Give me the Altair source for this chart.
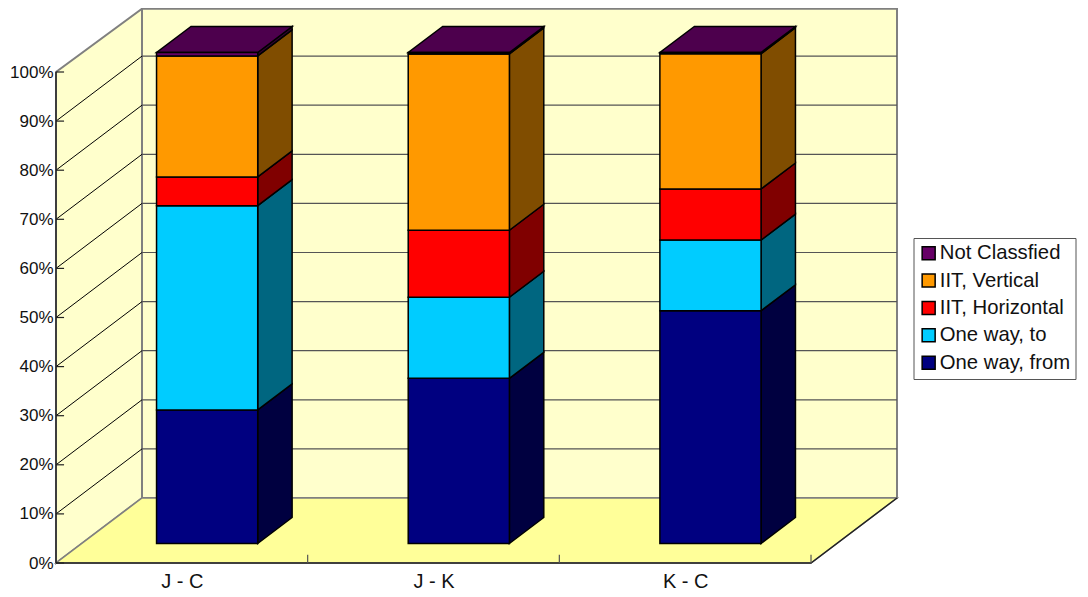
import altair as alt
import pandas as pd

categories = ["J - C", "J - K", "K - C"]
series = ["One way, from", "One way, to", "IIT, Horizontal", "IIT, Vertical", "Not Classfied"]
one_way_from = [27.2, 33.65, 47.4]
one_way_to = [41.6, 16.5, 14.4]
iit_horizontal = [5.85, 13.65, 10.4]
iit_vertical = [24.65, 35.9, 27.56]
not_classified = [0.7, 0.3, 0.24]
front_colors = ["#000080", "#00CCFF", "#FF0000", "#FF9900", "#660066"]
side_colors = ["#000040", "#006680", "#800000", "#804D00", "#330033"]
top_color = "#4D004D"
tick_values = list(range(0, 101, 10))

values = [one_way_from, one_way_to, iit_horizontal, iit_vertical, not_classified]
DX, DY = 86 / 251.67, 65 / 4.91      # one full depth of the box, in axis units
BAR_L, BAR_W = 0.297, 0.402
D0, D1 = 0.3, 0.7
XMAX, YMAX = 841 / 251.67, 555 / 4.91
N = len(categories)
TOP = YMAX - 0.15
xs = alt.Scale(domain=[0, XMAX], nice=False, zero=False)
ys = alt.Scale(domain=[0, YMAX], nice=False, zero=False)

front, side, top = [], [], []
for c in range(N):
    base = 0.0
    xa = c + BAR_L + D0 * DX
    xb = xa + BAR_W
    for s, name in enumerate(series):
        end = base + values[s][c]
        front.append(dict(series=name, x=xa, x2=xb, y=base + D0 * DY, y2=end + D0 * DY))
        key = f"{c}-{s}"
        side.append(dict(k=key, fill=side_colors[s], x=xb, y=base + D0 * DY, y2=end + D0 * DY))
        side.append(dict(k=key, fill=side_colors[s], x=xb + (D1 - D0) * DX, y=base + D1 * DY, y2=end + D1 * DY))
        base = end
    top.append(dict(k=c, x=xa, x2=xb, y=base + D0 * DY))
    top.append(dict(k=c, x=xa + (D1 - D0) * DX, x2=xb + (D1 - D0) * DX, y=base + D1 * DY))

X = alt.X("x:Q", scale=xs, axis=alt.Axis(
    title=None, values=[i + 0.5 for i in range(N)], grid=False, domain=False, ticks=False,
    labelExpr="['" + "','".join(categories) + "'][floor(datum.value)]",
    labelFont="Liberation Sans", labelFontSize=20, labelColor="#111", labelPadding=8, labelAngle=0))
Y = alt.Y("y:Q", scale=ys, axis=alt.Axis(
    title=None, values=tick_values, grid=False, domain=False, ticks=False,
    labelExpr="datum.value + '%'",
    labelFont="Liberation Sans", labelFontSize=17, labelColor="#111", labelPadding=3))

# back wall
back_wall = alt.Chart(pd.DataFrame([
    dict(x=DX, x2=N + DX, y=0 + DY, y2=TOP)
])).mark_rect(fill="#FFFFCC", stroke="#808080", strokeWidth=2).encode(
    x=X, x2="x2:Q", y=Y, y2="y2:Q")

# left wall
left_wall = alt.Chart(pd.DataFrame([
    dict(x=0, y=0, y2=100), dict(x=DX, y=DY, y2=TOP)
])).mark_area(fill="#FFFFCC", stroke="#808080", strokeWidth=2).encode(
    x=X, y=Y, y2="y2:Q")

# floor
floor = alt.Chart(pd.DataFrame([
    dict(x=0, x2=N, y=0), dict(x=DX, x2=N + DX, y=DY)
])).mark_area(orient="horizontal", fill="#FFFF99", stroke="#808080", strokeWidth=1.5).encode(
    x=X, x2="x2:Q", y=Y)

# gridlines
grid_left = []
grid_back = []
for v in tick_values[1:-1]:
    grid_left += [dict(k=v, x=0, y=v), dict(k=v, x=DX, y=v + DY)]
    grid_back += [dict(x=DX, x2=N + DX, y=v + DY)]
g_left = alt.Chart(pd.DataFrame(grid_left)).mark_line(color="#000", strokeWidth=1).encode(
    x=X, y=Y, detail="k:N")
g_back = alt.Chart(pd.DataFrame(grid_back)).mark_rule(color="#555", strokeWidth=1.2).encode(
    x=X, x2="x2:Q", y=Y)

# front floor edge, right floor edge, axis line and ticks
edges = alt.Chart(pd.DataFrame([
    dict(k="a", x=0, y=0), dict(k="a", x=N, y=0), dict(k="a", x=N + DX, y=DY),
    dict(k="b", x=0, y=0), dict(k="b", x=0, y=100),
])).mark_line(color="#222", strokeWidth=1.4).encode(
    x=X, y=Y, detail="k:N", order="ord:Q"
).transform_calculate(ord="datum.x + datum.y / 1000")
val_ticks = alt.Chart(pd.DataFrame(
    [dict(x=0, x2=0.032, y=v) for v in tick_values]
)).mark_rule(color="#222", strokeWidth=1.2).encode(x=X, x2="x2:Q", y=Y)
cat_ticks = alt.Chart(pd.DataFrame(
    [dict(x=float(i), y=0, y2=1.7) for i in range(1, N + 1)]
)).mark_rule(color="#555", strokeWidth=1.2).encode(x=X, y=Y, y2="y2:Q")

# bars
sides = alt.Chart(pd.DataFrame(side)).mark_area(stroke="#000", strokeWidth=1.5).encode(
    x=X, y=Y, y2="y2:Q", detail="k:N", fill=alt.Fill("fill:N", scale=None))
tops = alt.Chart(pd.DataFrame(top)).mark_area(
    orient="horizontal", fill=top_color, stroke="#000", strokeWidth=1.5).encode(
    x=X, x2="x2:Q", y=Y, detail="k:N")
fronts = alt.Chart(pd.DataFrame(front)).mark_rect(stroke="#000", strokeWidth=1.5).encode(
    x=X, x2="x2:Q", y=Y, y2="y2:Q",
    color=alt.Color("series:N",
                    scale=alt.Scale(domain=series[::-1], range=front_colors[::-1]),
                    legend=alt.Legend(
                        title=None, orient="none", legendX=857.5, legendY=230,
                        symbolType="square", symbolSize=169, symbolStrokeColor="#000",
                        symbolStrokeWidth=1.5, symbolOpacity=1,
                        labelFont="Liberation Sans", labelFontSize=20.3, labelColor="#111",
                        labelLimit=200, rowPadding=6.4, padding=5, labelOffset=1,
                        labelExpr="datum.label + '\u2003'",
                        fillColor="#FFFFFF", strokeColor="#555")))

chart = alt.layer(back_wall, left_wall, floor, g_back, g_left, edges, val_ticks, cat_ticks,
                  sides, tops, fronts).properties(
    width=841, height=555,
    padding={"left": 48, "top": 0, "right": 183, "bottom": 28},
    autosize=alt.AutoSizeParams(type="none"),
    background="#FFFFFF",
).configure_view(stroke=None)

chart.save("out.html", embed_options={"renderer": "svg", "actions": False})
